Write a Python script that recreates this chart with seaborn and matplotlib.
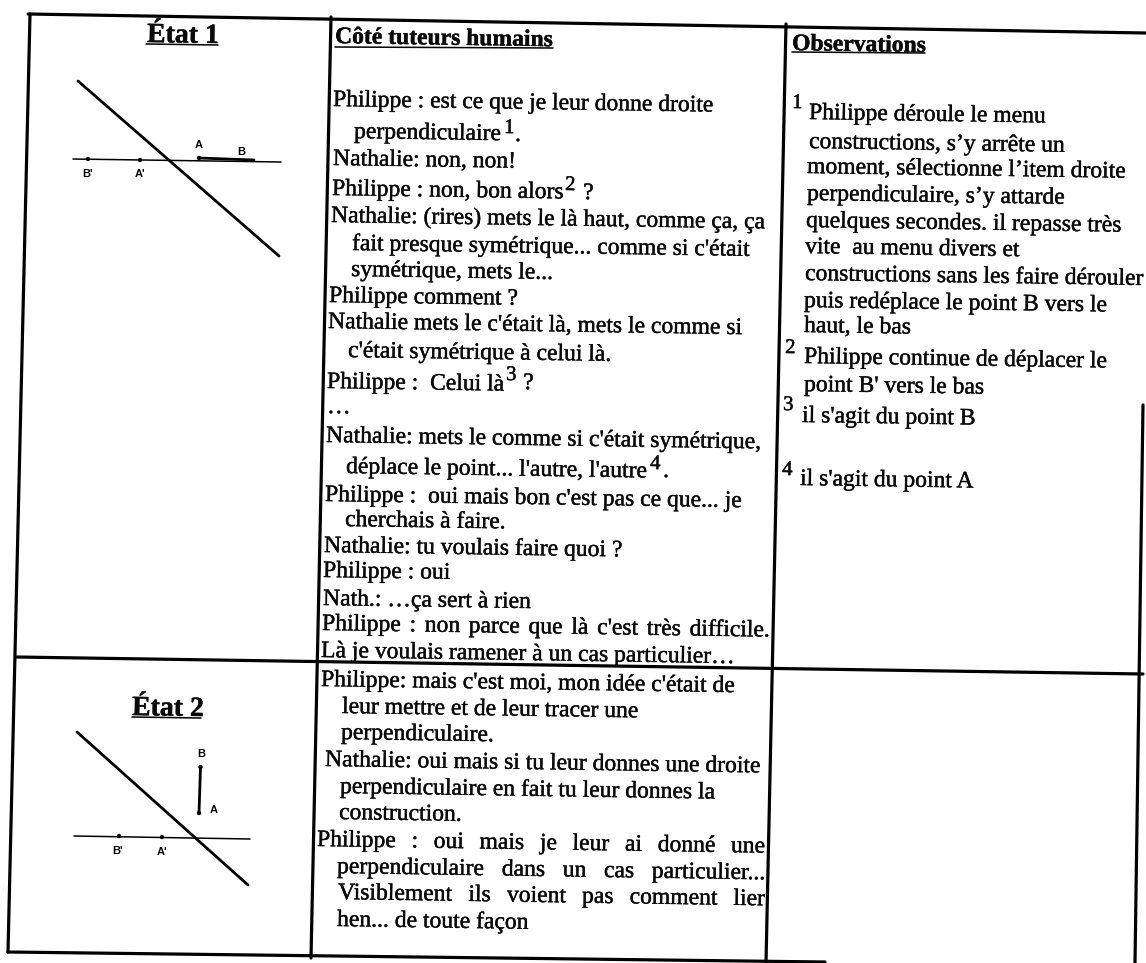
import matplotlib
matplotlib.use("Agg")
import matplotlib.pyplot as plt
import matplotlib.patheffects as pe
import seaborn as sns
import pandas as pd

# ---- content ----
tutor_lines = [
    "Philippe : est ce que je leur donne droite", "perpendiculaire", ".",
    "Nathalie: non, non!", "Philippe : non, bon alors", "?",
    "Nathalie: (rires) mets le là haut, comme ça, ça",
    "fait presque symétrique... comme si c'était", "symétrique, mets le...",
    "Philippe comment ?", "Nathalie mets le c'était là, mets le comme si",
    "c'était symétrique à celui là.", "Philippe :  Celui là", "?", "…",
    "Nathalie: mets le comme si c'était symétrique,",
    "déplace le point... l'autre, l'autre", ".",
    "Philippe :  oui mais bon c'est pas ce que... je", "cherchais à faire.",
    "Nathalie: tu voulais faire quoi ?", "Philippe : oui", "Nath.: …ça sert à rien",
    "Philippe : non parce que là c'est très difficile.",
    "Là je voulais ramener à un cas particulier…",
    "Philippe: mais c'est moi, mon idée c'était de",
    "leur mettre et de leur tracer une", "perpendiculaire.",
    "Nathalie: oui mais si tu leur donnes une droite",
    "perpendiculaire en fait tu leur donnes la", "construction.",
    "Philippe : oui mais je leur ai donné une",
    "perpendiculaire dans un cas particulier...",
    "Visiblement ils voient pas comment lier", "hen... de toute façon",
]
observation_lines = [
    "Philippe déroule le menu", "constructions, s’y arrête un",
    "moment, sélectionne l’item droite", "perpendiculaire, s’y attarde",
    "quelques secondes. il repasse très", "vite  au menu divers et",
    "constructions sans les faire dérouler", "puis redéplace le point B vers le",
    "haut, le bas", "Philippe continue de déplacer le", "point B' vers le bas",
    "il s'agit du point B", "il s'agit du point A",
]
note_marks = ["1", "2", "3", "4"]
headers = ["État 1", "État 2", "Côté tuteurs humains", "Observations"]
diagram_labels = ["A", "B", "B'", "A'", "B", "A", "B'", "A'"]

# ---- layout, kept apart from the content ----
tutor_pos = [
    (333,106,None),(354,138,None),(515,141,None),(333,165,None),(332,195,None),(583,199,None),
    (331,222,None),(352,250,None),(351,276,None),(329,302,None),(328,328,None),(348,357,None),
    (327,388,None),(523,389,None),(327,413,None),(326,442,None),(346,473,None),(663,477,None),
    (325,501,None),(345,526,None),(324,552,None),(323,577,None),(323,605,None),(322,630,448),
    (321,657,None),(321,686,None),(342,713,None),(341,739,None),(325,766,None),(340,793,None),
    (339,819,None),(317,846,448),(337,873,428),(338,899,427),(337,926,None),
]
obs_pos = [
    (809,119,None),(809,148,None),(807,173,None),(807,200,None),(806,227,None),(805,253,None),
    (805,280,None),(804,307,None),(804,332,None),(804,363,None),(804,391,None),(802,422,None),(800,485,None),
]
tutor_mark_pos = [(504,133),(565,190),(506,380),(650,469)]
obs_mark_pos = [(792,108),(785,353),(783,410),(782,475)]
header_pos = [(147,42,20),(132,715,20),(335,43,17),(792,50,17)]
label_pos = [(199,148),(241,155),(88,177),(140,177),(201,757),(214,813),(118,854),(162,855)]

rule_x = [[30,8],[331,311],[786,766],[1143,1135],[28,1146],[8,825],[16,1143]]
rule_y = [[14,952],[17,958],[24,963],[405,963],[14,33],[952,962],[657,674]]
thin_x = [[73,281],[74,250],[335,553],[792,925],[146,218],[132,201]]
thin_y = [[159,162],[836,839],[47,48],[52,53],[44,45],[717,718]]
stroke_x = [[78,279],[199,254],[77,248],[200.5,199]]
stroke_y = [[81,256],[158,160],[732,885],[767,813]]
dot_x = [88,140,199,119,162,200.5,199]
dot_y = [159,160,158,836,837,767,813]

sns.set_theme(style="white")
plt.rcParams["font.family"] = ["Liberation Serif", "DejaVu Serif"]
fig, ax = plt.subplots(figsize=(11.46, 9.63), dpi=100)
ax.set_position([0, 0, 1, 1])

def segments(xs, ys):
    rows = []
    for i, (a, b) in enumerate(zip(xs, ys)):
        for x, y in zip(a, b):
            rows.append({"x": x, "y": y, "seg": i})
    return pd.DataFrame(rows)

def draw(xs, ys, lw):
    sns.lineplot(data=segments(xs, ys), x="x", y="y", units="seg", estimator=None,
                 sort=False, color="black", linewidth=lw, ax=ax, legend=False)

draw(rule_x, rule_y, 2.3)
draw(thin_x, thin_y, 1.1)
draw(stroke_x, stroke_y, 2.0)
sns.scatterplot(x=dot_x, y=dot_y, s=10, color="black", edgecolor="none", ax=ax)
ax.set_xlim(0, 1146)
ax.set_ylim(963, 0)
ax.set_axis_off()

ROT = -0.85
BODY = 17
MARK = 15
fig.canvas.draw()
rend = fig.canvas.get_renderer()
heavy = [pe.withStroke(linewidth=0.3, foreground="#0a0a0a")]

def put(x, y, s, size=BODY, **kw):
    return ax.text(x, y, s, fontsize=size, rotation=ROT, rotation_mode="anchor",
                   ha="left", va="baseline", color="#0a0a0a", clip_on=True,
                   path_effects=heavy, **kw)

def word_w(s, size):
    t = ax.text(0, 0, s, fontsize=size)
    w = t.get_window_extent(rend).width
    t.remove()
    return w

def line(s, pos):
    x, y, width = pos
    if width is None:
        put(x, y, s)
        return
    words = s.split()
    ws = [word_w(w, BODY) for w in words]
    gap = (width - sum(ws)) / (len(words) - 1)
    for w, wd in zip(words, ws):
        put(x, y, w)
        x += wd + gap
        y += (wd + gap) * 0.0148

for s, p in zip(tutor_lines, tutor_pos):
    line(s, p)
for s, p in zip(observation_lines, obs_pos):
    line(s, p)
for s, p in zip(note_marks, tutor_mark_pos):
    put(p[0], p[1], s, size=MARK)
for s, p in zip(note_marks, obs_mark_pos):
    put(p[0], p[1], s, size=MARK)
for s, p in zip(headers, header_pos):
    put(p[0], p[1], s, size=p[2], fontweight="bold")
for s, p in zip(diagram_labels, label_pos):
    ax.text(p[0], p[1], s, fontsize=8, fontweight="bold", family="Liberation Sans",
            ha="center", va="baseline", color="black")

fig.savefig("out.png", dpi=100, facecolor="white")
